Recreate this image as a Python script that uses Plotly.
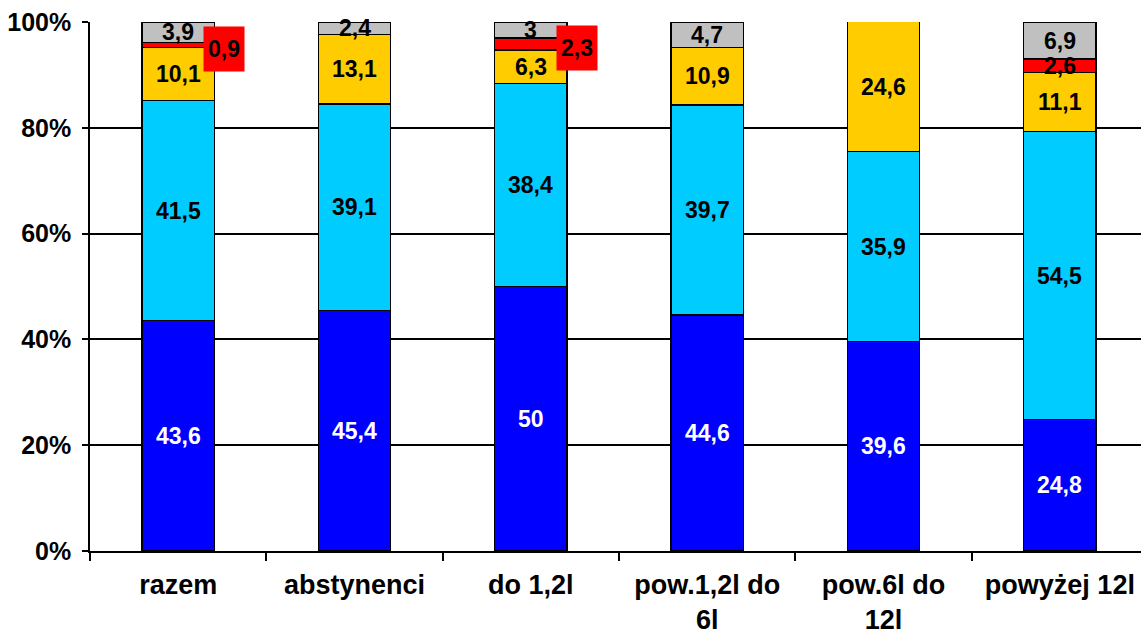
import plotly.graph_objects as go

categories = ["razem", "abstynenci", "do 1,2l", "pow.1,2l do<br>6l", "pow.6l do<br>12l", "powyżej 12l"]
blue_vals = [43.6, 45.4, 50.0, 44.6, 39.6, 24.8]
cyan_vals = [41.5, 39.1, 38.4, 39.7, 35.9, 54.5]
gold_vals = [10.1, 13.1, 6.3, 10.9, 24.6, 11.1]
red_vals = [0.9, 0.0, 2.3, 0.0, 0.0, 2.6]
gray_vals = [3.9, 2.4, 3.0, 4.7, 0.0, 6.9]
y_ticks = [0, 20, 40, 60, 80, 100]
y_tick_labels = ["0%", "20%", "40%", "60%", "80%", "100%"]

series = [
    ("blue", blue_vals, "#0000FF", "white"),
    ("cyan", cyan_vals, "#00CCFF", "black"),
    ("gold", gold_vals, "#FFCC00", "black"),
    ("red", red_vals, "#FF0000", "black"),
    ("gray", gray_vals, "#C0C0C0", "black"),
]
# labels shown in a red callout box beside the bar
callout = {("red", 0), ("red", 2)}

FONT = "Liberation Sans, Arial, sans-serif"

def fmt(v):
    s = ("%.1f" % v).replace(".", ",")
    if s.endswith(",0"):
        s = s[:-2]
    return s

fig = go.Figure()
annotations = []
base = [0.0] * len(categories)
for name, vals, color, tcol in series:
    fig.add_trace(go.Bar(
        x=categories, y=vals, name=name,
        marker=dict(color=color, line=dict(color="black", width=1.3)),
        hoverinfo="skip",
    ))
    for i, v in enumerate(vals):
        if v > 0:
            mid = base[i] + v / 2
            if (name, i) in callout:
                annotations.append(dict(
                    x=categories[i], y=mid, xref="x", yref="y", text="<b>%s</b>" % fmt(v),
                    showarrow=False, xshift=46, yshift=-4, bgcolor="#FF0000",
                    width=38, height=42,
                    font=dict(family=FONT, size=23, color="black"),
                ))
            else:
                annotations.append(dict(
                    x=categories[i], y=mid, xref="x", yref="y", text="<b>%s</b>" % fmt(v),
                    showarrow=False,
                    font=dict(family=FONT, size=23, color=tcol),
                ))
        base[i] += v

fig.update_layout(
    barmode="stack",
    bargap=0.59,
    width=1141, height=641,
    margin=dict(l=90, r=0, t=22, b=90),
    paper_bgcolor="white", plot_bgcolor="white",
    showlegend=False,
    annotations=annotations,
    font=dict(family=FONT, color="black"),
)
fig.update_xaxes(
    type="category",
    automargin=False,
    range=[-0.5, 5.46],
    showline=True, linecolor="black", linewidth=1.5,
    ticks="outside", ticklen=8, tickcolor="black", tickwidth=1.5,
    tickson="boundaries",
    ticklabelstandoff=9,
    ticklabeloverflow="allow",
    showgrid=False,
    tickfont=dict(family=FONT, size=27, color="black"),
    ticktext=["<b>%s</b>" % c for c in categories],
    tickvals=categories,
)
fig.update_yaxes(
    automargin=False,
    range=[0, 100],
    tickvals=y_ticks,
    ticktext=["<b>%s</b>" % t for t in y_tick_labels],
    showline=True, linecolor="black", linewidth=1.5,
    ticks="outside", ticklen=6, tickcolor="black", tickwidth=1.5,
    ticklabelstandoff=6,
    ticklabeloverflow="allow",
    showgrid=True, gridcolor="black", gridwidth=1.5,
    zeroline=False,
    tickfont=dict(family=FONT, size=25, color="black"),
)

fig.write_html(
    "out.html",
    config={"displayModeBar": False},
    post_script="document.body.style.margin='0';document.body.style.overflow='hidden';",
)
